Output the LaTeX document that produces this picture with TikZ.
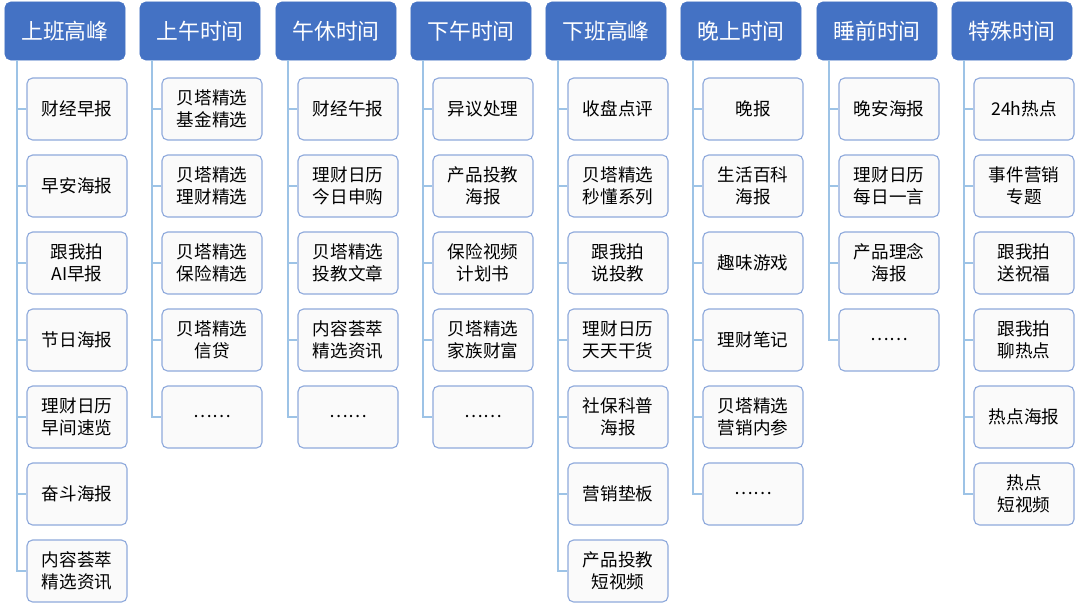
\documentclass[tikz,border=0pt]{standalone}
\usepackage{fontspec}
\setmainfont{Noto Sans CJK SC}
\usetikzlibrary{positioning,calc}
\definecolor{headBlue}{HTML}{4472C4}
\definecolor{boxLine}{HTML}{8FAADC}
\definecolor{treeLine}{HTML}{9DC3E6}
\tikzset{
    headnode/.style={
        rectangle, rounded corners=4pt,
        fill=headBlue, draw=headBlue,
        text=white, font=\fontsize{15.5}{17}\selectfont,
        minimum width=3cm, minimum height=1.45cm
    },
    itemnode/.style={
        rectangle, rounded corners=4pt,
        draw=boxLine, thick, fill=black!2,
        font=\fontsize{12.5}{15.5}\selectfont, align=center,
        minimum width=2.5cm, minimum height=1.55cm
    },
    tree/.style={treeLine, thick}
}
\begin{document}
\begin{tikzpicture}[x=0.025cm, y=-0.025cm]
        \useasboundingbox (0,0) rectangle (1080,605);
        \foreach \col/\x/\name/\items in {
            1/5/上班高峰/{{财经早报},{早安海报},{跟我拍\\AI早报},{节日海报},{理财日历\\早间速览},{奋斗海报},{内容荟萃\\精选资讯}},
            2/140/上午时间/{{贝塔精选\\基金精选},{贝塔精选\\理财精选},{贝塔精选\\保险精选},{贝塔精选\\信贷},{……}},
            3/276/午休时间/{{财经午报},{理财日历\\今日申购},{贝塔精选\\投教文章},{内容荟萃\\精选资讯},{……}},
            4/411/下午时间/{{异议处理},{产品投教\\海报},{保险视频\\计划书},{贝塔精选\\家族财富},{……}},
            5/546/下班高峰/{{收盘点评},{贝塔精选\\秒懂系列},{跟我拍\\说投教},{理财日历\\天天干货},{社保科普\\海报},{营销垫板},{产品投教\\短视频}},
            6/681/晚上时间/{{晚报},{生活百科\\海报},{趣味游戏},{理财笔记},{贝塔精选\\营销内参},{……}},
            7/817/睡前时间/{{晚安海报},{理财日历\\每日一言},{产品理念\\海报},{……}},
            8/952/特殊时间/{{24h热点},{事件营销\\专题},{跟我拍\\送祝福},{跟我拍\\聊热点},{热点海报},{热点\\短视频}}} {
            \node[headnode] (h\col) at (\x+60,31) {\name};
            \coordinate (t\col) at (\x+12,60);
            \foreach \txt [count=\j] in \items {
                \node[itemnode] (c\col-\j) at (\x+72,32+77*\j) {\txt};
                \draw[tree] (t\col) |- (c\col-\j.west);
            }
        }
    \end{tikzpicture}
\end{document}
